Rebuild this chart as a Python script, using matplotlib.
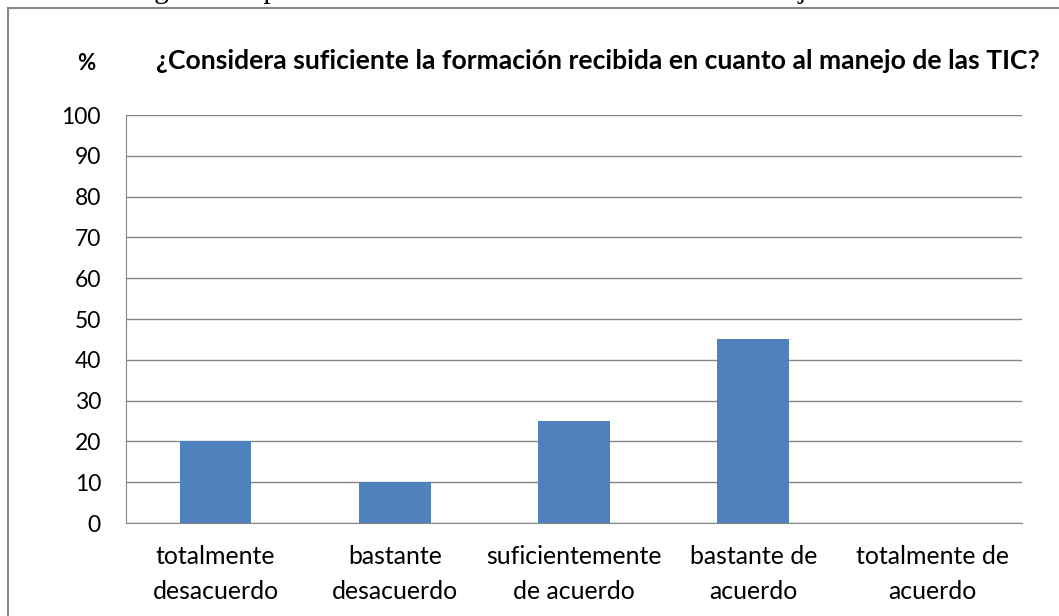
import matplotlib
matplotlib.use("Agg")
import matplotlib.pyplot as plt
from matplotlib.patches import Rectangle

categories = ["totalmente\ndesacuerdo", "bastante\ndesacuerdo", "suficientemente\nde acuerdo",
              "bastante de\nacuerdo", "totalmente de\nacuerdo"]
values = [20, 10, 25, 45, 0]
yticks = [0, 10, 20, 30, 40, 50, 60, 70, 80, 90, 100]
title = "¿Considera suficiente la formación recibida en cuanto al manejo de las TIC?"
caption = "Figura 4. Opinión sobre la formación recibida en el manejo de las TIC."

W, H = 1059, 616
fig = plt.figure(figsize=(W / 100, H / 100), dpi=100)

# outer frame
fig.patches.append(Rectangle((8 / W, -0.05), 1.1, (H - 8) / H + 0.05, transform=fig.transFigure,
                             fill=False, edgecolor="#888888", linewidth=1.5))
# partially cut caption at the very top
fig.text(543 / W, 1 + 2 / H, caption, ha="center", va="baseline", fontsize=21,
         family="Liberation Serif", color="black")

ax = fig.add_axes([126 / W, 1 - 523 / H, (1022 - 126) / W, (523 - 115) / H])
x = list(range(len(categories)))
ax.bar(x, values, width=0.4, color="#4F81BD", zorder=3)
ax.set_xlim(-0.5, len(categories) - 0.5)
ax.set_ylim(0, 100)
ax.set_yticks(yticks)
ax.set_xticks(x)
ax.set_xticklabels(categories, fontsize=17.9, family="Lato", linespacing=1.65)
ax.set_yticklabels([str(t) for t in yticks], fontsize=16.5, family="Lato")
ax.tick_params(axis="y", length=0, pad=18)
ax.tick_params(axis="x", length=0, pad=15.5)
ax.grid(axis="y", color="#868686", linewidth=1, zorder=0)
for s in ["top", "right"]:
    ax.spines[s].set_visible(False)
ax.spines["left"].set_color("#868686")
ax.spines["bottom"].set_color("#868686")

fig.text(598 / W, 1 - 61 / H, title, ha="center", va="center", fontsize=19.1,
         fontweight="bold", family="Lato")
fig.text(86 / W, 1 - 63 / H, "%", ha="center", va="center", fontsize=16,
         fontweight="bold", family="Lato")

fig.savefig("out.png", dpi=100)
